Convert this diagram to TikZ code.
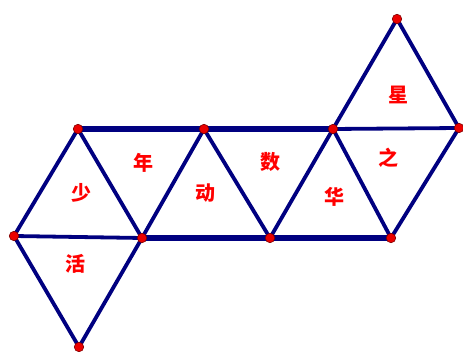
\documentclass[tikz,border=0pt]{standalone}
\usepackage{fontspec}
\newfontfamily\cjk{Noto Sans CJK SC}
\definecolor{netblue}{RGB}{0,0,128}
\definecolor{dotred}{RGB}{235,0,0}
\begin{document}
\begin{tikzpicture}[x=1pt, y=-1pt, every node/.style={font=\cjk\bfseries\fontsize{20}{20}\selectfont, text=red},
    edge/.style={draw=netblue, line width=3.8pt},
    rail/.style={draw=netblue, line width=5.5pt},
    dot/.style={circle, fill=dotred, draw=black!50!red, line width=0.6pt, inner sep=0pt, minimum size=9.5pt}]
    \useasboundingbox (0,0) rectangle (463,352);
    % corners of the net
    \coordinate (topstar) at (397,19);
    \coordinate (midleft) at (78,129);
    \coordinate (midtwo) at (204,129);
    \coordinate (midthree) at (333,129);
    \coordinate (midright) at (459,128);
    \coordinate (farleft) at (14,236);
    \coordinate (lowone) at (142,238);
    \coordinate (lowtwo) at (270,238);
    \coordinate (lowthree) at (391,238);
    \coordinate (bottom) at (79,347);
    % rails
    \draw[rail] (midleft) -- (midthree);
    \draw[edge] (midthree) -- (midright);
    \draw[rail] (lowone) -- (lowthree);
    \draw[edge] (farleft) -- (lowone);
    % slanted edges
    \draw[edge] (midleft) -- (farleft);
    \draw[edge] (midleft) -- (lowone);
    \draw[edge] (lowone) -- (midtwo);
    \draw[edge] (midtwo) -- (lowtwo);
    \draw[edge] (lowtwo) -- (midthree);
    \draw[edge] (midthree) -- (lowthree);
    \draw[edge] (lowthree) -- (midright);
    \draw[edge] (midthree) -- (topstar);
    \draw[edge] (topstar) -- (midright);
    \draw[edge] (farleft) -- (bottom);
    \draw[edge] (bottom) -- (lowone);
    \foreach \p in {topstar,midleft,midtwo,midthree,midright,farleft,lowone,lowtwo,lowthree,bottom}
      \node[dot] at (\p) {};
    % faces
    \node (shao) at (81,193) {少};
    \node (nian) at (143,163) {年};
    \node (dong) at (205,193) {动};
    \node (shu) at (270,162) {数};
    \node (hua) at (334,197) {华};
    \node (zhi) at (388,158) {之};
    \node (xing) at (398,95) {星};
    \node (huo) at (75,264) {活};
  \end{tikzpicture}
\end{document}
